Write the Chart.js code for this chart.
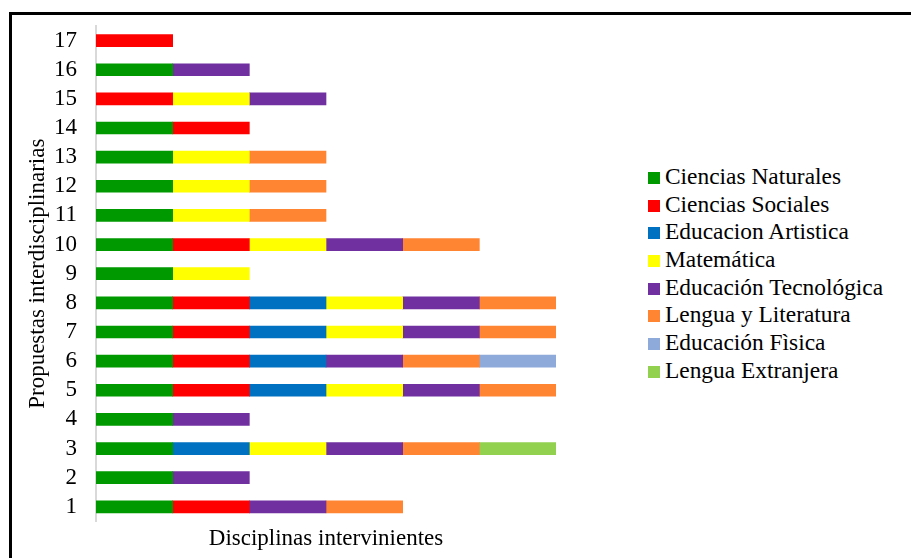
<!DOCTYPE html>
<html>
<head>
<meta charset="utf-8">
<script src="https://cdn.jsdelivr.net/npm/chart.js@4.4.1/dist/chart.umd.min.js"></script>
<style>
  html, body { margin: 0; padding: 0; background: #fff; }
  #wrap { position: relative; width: 911px; height: 558px; overflow: hidden; }
  #frame { position: absolute; left: 9px; top: 12px; width: 940px; height: 600px;
           border-top: 3px solid #000; border-left: 3px solid #000; }
  #grafica { position: absolute; left: 0; top: 0; }
  #leyenda { position: absolute; left: 648px; top: 163px; font-family: "Liberation Serif", serif;
             font-size: 23.4px; color: #000; }
  #leyenda .item { height: 27.7px; line-height: 27.7px; white-space: nowrap; }
  #leyenda .caja { display: inline-block; width: 12px; height: 12px; margin-right: 5px; vertical-align: 0px; }
</style>
</head>
<body>
<div id="wrap">
  <div id="frame"></div>
  <canvas id="grafica" width="570" height="558"></canvas>
  <div id="leyenda"></div>
</div>
<script>
// propuestas 1..17
var propuestas = ['1','2','3','4','5','6','7','8','9','10','11','12','13','14','15','16','17'];

var disciplinas = ['Ciencias Naturales', 'Ciencias Sociales', 'Educacion Artistica', 'Matemática',
                   'Educación Tecnológica', 'Lengua y Literatura', 'Educación Fìsica', 'Lengua Extranjera'];

var colores = ['#009900', '#ff0000', '#0070c0', '#ffff00', '#7030a0', '#ff8533', '#8eaadb', '#92d050'];

// 1 = la disciplina interviene en la propuesta
var cienciasNaturales  = [1,1,1,1,1,1,1,1,1,1,1,1,1,1,0,1,0];
var cienciasSociales   = [1,0,0,0,1,1,1,1,0,1,0,0,0,1,1,0,1];
var educArtistica      = [0,0,1,0,1,1,1,1,0,0,0,0,0,0,0,0,0];
var matematica         = [0,0,1,0,1,0,1,1,1,1,1,1,1,0,1,0,0];
var educTecnologica    = [1,1,1,1,1,1,1,1,0,1,0,0,0,0,1,1,0];
var lenguaLiteratura   = [1,0,1,0,1,1,1,1,0,1,1,1,1,0,0,0,0];
var educFisica         = [0,0,0,0,0,1,0,0,0,0,0,0,0,0,0,0,0];
var lenguaExtranjera   = [0,0,1,0,0,0,0,0,0,0,0,0,0,0,0,0,0];

var series = [cienciasNaturales, cienciasSociales, educArtistica, matematica,
              educTecnologica, lenguaLiteratura, educFisica, lenguaExtranjera];

var fuente = '"Liberation Serif", "Times New Roman", serif';

var datasets = series.map(function (vals, i) {
    return {
        label: disciplinas[i],
        // los ceros no se dibujan
        data: vals.map(function (v) { return v || null; }),
        backgroundColor: colores[i],
        borderWidth: 0,
        barThickness: 12
    };
});

const ctx = document.getElementById('grafica').getContext('2d');
new Chart(ctx, {
    type: 'bar',
    data: { labels: propuestas, datasets: datasets },
    options: {
        indexAxis: 'y',
        responsive: false,
        animation: false,
        layout: { padding: { left: 22, right: 14, top: 26, bottom: 4 } },
        plugins: { legend: { display: false }, tooltip: { enabled: false } },
        scales: {
            x: {
                stacked: true,
                min: 0,
                max: 6,
                grid: { display: false, drawTicks: false },
                border: { display: false },
                ticks: { display: false },
                title: {
                    display: true,
                    text: 'Disciplinas intervinientes',
                    color: '#000',
                    font: { family: fuente, size: 23 },
                    padding: { top: 4, bottom: 1 }
                }
            },
            y: {
                stacked: true,
                reverse: true,
                grid: { display: false, drawTicks: false },
                border: { display: true, color: '#d9d9d9', width: 2 },
                ticks: { color: '#000', padding: 19, autoSkip: false, font: { family: fuente, size: 23 } },
                title: {
                    display: true,
                    text: 'Propuestas interdisciplinarias',
                    color: '#000',
                    font: { family: fuente, size: 23 },
                    padding: { top: 2, bottom: 2 }
                },
                afterFit: function (scale) {
                    scale.width = 74;
                    scale.paddingTop = 0;
                    scale.paddingBottom = 0;
                }
            }
        }
    }
});

// leyenda
var ley = document.getElementById('leyenda');
disciplinas.forEach(function (nombre, i) {
    var d = document.createElement('div');
    d.className = 'item';
    d.innerHTML = '<span class="caja" style="background:' + colores[i] + '"></span>' + nombre;
    ley.appendChild(d);
});
</script>
</body>
</html>
